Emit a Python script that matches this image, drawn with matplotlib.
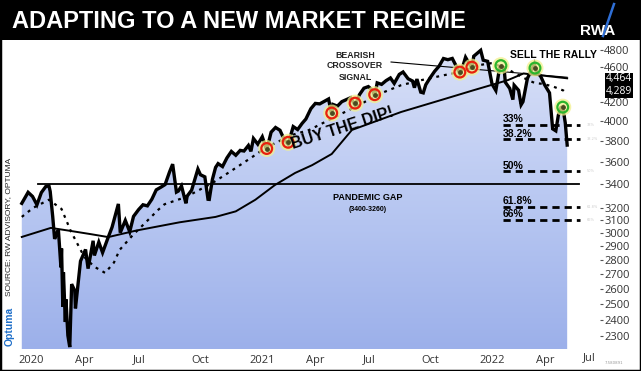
import numpy as np
import pandas as pd
import matplotlib
matplotlib.use("Agg")
import matplotlib.pyplot as plt
from matplotlib.colors import LinearSegmentedColormap
from matplotlib.ticker import FixedLocator, FixedFormatter, NullLocator
from matplotlib.lines import Line2D
from matplotlib.patches import Rectangle

W, H = 641, 371

# S&P 500
price_dates = [
    '2020-01-07', '2020-01-10', '2020-01-17', '2020-01-24', '2020-01-31', '2020-02-07', '2020-02-14',
    '2020-02-19', '2020-02-21', '2020-02-25', '2020-02-28', '2020-03-03', '2020-03-05', '2020-03-09',
    '2020-03-10', '2020-03-12', '2020-03-13', '2020-03-16', '2020-03-17', '2020-03-20', '2020-03-23',
    '2020-03-26', '2020-03-31', '2020-04-01', '2020-04-09', '2020-04-17', '2020-04-21', '2020-04-29',
    '2020-05-01', '2020-05-08', '2020-05-14', '2020-05-22', '2020-05-29', '2020-06-08', '2020-06-11',
    '2020-06-19', '2020-06-26', '2020-07-02', '2020-07-10', '2020-07-17', '2020-07-24', '2020-07-31',
    '2020-08-07', '2020-08-14', '2020-08-21', '2020-08-28', '2020-09-02', '2020-09-08', '2020-09-11',
    '2020-09-16', '2020-09-23', '2020-09-25', '2020-10-02', '2020-10-12', '2020-10-16', '2020-10-23',
    '2020-10-28', '2020-10-30', '2020-11-04', '2020-11-09', '2020-11-13', '2020-11-20', '2020-11-27',
    '2020-12-04', '2020-12-11', '2020-12-18', '2020-12-24', '2020-12-31',
    '2021-01-04', '2021-01-08', '2021-01-15', '2021-01-22', '2021-01-29', '2021-02-05', '2021-02-12',
    '2021-02-19', '2021-02-26', '2021-03-04', '2021-03-12', '2021-03-19', '2021-03-26', '2021-04-01',
    '2021-04-09', '2021-04-16', '2021-04-23', '2021-05-07', '2021-05-12', '2021-05-14', '2021-05-21',
    '2021-05-28', '2021-06-11', '2021-06-18', '2021-06-25', '2021-07-02', '2021-07-09', '2021-07-16',
    '2021-07-19', '2021-07-23', '2021-07-30', '2021-08-06', '2021-08-13', '2021-08-19', '2021-08-27',
    '2021-09-02', '2021-09-10', '2021-09-17', '2021-09-20', '2021-09-24', '2021-09-30', '2021-10-04',
    '2021-10-08', '2021-10-15', '2021-10-22', '2021-10-29', '2021-11-05', '2021-11-12', '2021-11-19',
    '2021-11-26', '2021-12-01', '2021-12-03', '2021-12-10', '2021-12-17', '2021-12-20', '2021-12-23',
    '2022-01-03', '2022-01-07', '2022-01-14', '2022-01-21', '2022-01-27', '2022-02-02', '2022-02-09',
    '2022-02-11', '2022-02-18', '2022-02-23', '2022-02-25', '2022-03-04', '2022-03-08', '2022-03-11',
    '2022-03-18', '2022-03-29', '2022-04-01', '2022-04-08', '2022-04-14', '2022-04-22', '2022-04-27',
    '2022-05-02', '2022-05-06', '2022-05-10', '2022-05-13', '2022-05-17', '2022-05-20']
price_vals = [
    3237, 3265, 3330, 3295, 3225, 3328, 3380,
    3386, 3338, 3128, 2954, 3003, 3023, 2746,
    2882, 2481, 2711, 2386, 2529, 2305, 2237,
    2630, 2585, 2471, 2790, 2875, 2737, 2940,
    2831, 2930, 2852, 2955, 3044, 3232, 3002,
    3098, 3009, 3130, 3185, 3225, 3216, 3271,
    3351, 3373, 3397, 3508, 3580, 3332, 3341,
    3385, 3237, 3298, 3348, 3535, 3484, 3465,
    3271, 3270, 3443, 3550, 3585, 3558, 3638,
    3699, 3663, 3709, 3703, 3756,
    3700, 3824, 3768, 3841, 3714, 3887, 3934,
    3906, 3811, 3768, 3943, 3913, 3975, 4020,
    4129, 4185, 4180, 4233, 4063, 4174, 4156,
    4204, 4247, 4166, 4281, 4352, 4370, 4327,
    4258, 4412, 4395, 4437, 4468, 4406, 4509,
    4537, 4459, 4433, 4358, 4455, 4308, 4300,
    4391, 4471, 4545, 4605, 4697, 4683, 4698,
    4595, 4513, 4538, 4712, 4620, 4568, 4725,
    4797, 4677, 4663, 4398, 4326, 4589, 4587,
    4419, 4349, 4226, 4385, 4329, 4170, 4204,
    4463, 4631, 4546, 4488, 4393, 4300, 3920,
    3900, 4060, 4140, 4150, 3980, 3760]

# 50-day average (dotted)
ma50_dates = ['2020-01-07', '2020-01-25', '2020-02-19', '2020-03-10', '2020-03-25', '2020-04-01',
              '2020-04-15', '2020-05-01', '2020-05-18', '2020-06-01', '2020-06-10', '2020-07-01',
              '2020-07-22', '2020-08-10', '2020-08-20', '2020-09-23', '2020-11-04', '2020-12-01',
              '2021-01-06', '2021-01-27', '2021-03-10', '2021-04-06', '2021-05-17', '2021-06-24',
              '2021-07-30', '2021-08-30', '2021-10-01', '2021-11-06', '2021-12-03', '2021-12-29',
              '2022-01-19', '2022-02-08', '2022-02-27', '2022-03-20', '2022-03-30', '2022-04-12',
              '2022-04-28', '2022-05-14', '2022-05-20']
ma50_vals = [3126, 3200, 3267, 3190, 3010, 2946,
             2820, 2750, 2707, 2780, 2872, 2984,
             3086, 3183, 3229, 3290, 3411, 3508,
             3646, 3733, 3859, 3908, 4041, 4168,
             4298, 4386, 4443, 4500, 4540, 4615,
             4640, 4596, 4520, 4440, 4410, 4400,
             4370, 4326, 4289]

# 200-day average (solid)
ma200_dates = ['2020-01-07', '2020-02-22', '2020-03-21', '2020-04-26', '2020-05-23', '2020-07-06',
               '2020-09-13', '2020-11-09', '2020-12-11', '2021-01-11', '2021-02-11', '2021-03-15',
               '2021-04-11', '2021-05-12', '2021-06-13', '2021-08-30', '2021-11-01', '2021-12-23',
               '2022-02-15', '2022-03-12', '2022-05-20']
ma200_vals = [2969, 3039, 3018, 2990, 2968, 3018,
              3083, 3126, 3171, 3267, 3393, 3500,
              3571, 3675, 3909, 4094, 4221, 4330,
              4443, 4520, 4464]

buy_dates = ['2021-01-29', '2021-03-04', '2021-05-12', '2021-06-18', '2021-07-19', '2021-12-01', '2021-12-20']
buy_vals = [3727, 3787, 4083, 4188, 4280, 4536, 4594]
sell_dates = ['2022-02-04', '2022-03-30', '2022-05-13']
sell_vals = [4612, 4583, 4145]

fib_labels = ['33%', '38.2%', '50%', '61.8%', '66%']
fib_vals = [3957, 3815, 3515, 3210, 3105]
gap_val = 3400

# 4400 sits under the last-value boxes in the original, so it is left out
y_ticks = [2300, 2400, 2500, 2600, 2700, 2800, 2900, 3000, 3100, 3200,
           3400, 3600, 3800, 4000, 4200, 4600, 4800]
x_tick_dates = ['2020-01-01', '2020-04-01', '2020-07-01', '2020-10-01', '2021-01-01', '2021-04-01',
                '2021-07-01', '2021-10-01', '2022-01-01', '2022-04-01']
x_tick_labels = ['2020', 'Apr', 'Jul', 'Oct', '2021', 'Apr', 'Jul', 'Oct', '2022', 'Apr']

px = pd.to_datetime(price_dates)
m50 = pd.to_datetime(ma50_dates)
m200 = pd.to_datetime(ma200_dates)


def fpos(x, y):
    # pixel position -> figure fraction
    return x / W, 1 - y / H


fig = plt.figure(figsize=(W / 100, H / 100), dpi=100)
fig.patch.set_facecolor('white')
ax = fig.add_axes([18 / W, (H - 349) / H, 582 / W, 309 / H])
ax.set_facecolor('white')

# gradient fill under the price line
cmap = LinearSegmentedColormap.from_list('bg', ['#9cb0ea', '#bac9f2', '#dae1f7'])
grad = np.linspace(0, 1, 256).reshape(-1, 1)
img = ax.imshow(grad, cmap=cmap, origin='lower', extent=[0, 1, 0, 1],
                transform=ax.transAxes, aspect='auto', zorder=1)

ax.set_yscale('log')
ylo, yhi = 2226, 4926
ax.set_xlim(pd.Timestamp('2020-01-07'), pd.Timestamp('2022-07-11'))
ax.set_ylim(ylo, yhi)

poly = ax.fill_between(px, price_vals, ylo, facecolor='none', edgecolor='none')
img.set_clip_path(poly.get_paths()[0], transform=ax.transData)

# pandemic gap + fib levels
ax.plot([pd.Timestamp('2020-02-02'), pd.Timestamp('2022-06-08')], [gap_val, gap_val],
        color='black', lw=1.3, zorder=3)
fib_start = pd.Timestamp('2022-02-07')
fib_end = pd.Timestamp('2022-06-09')
for lab, v in zip(fib_labels, fib_vals):
    ax.plot([fib_start, fib_end], [v, v], color='black', lw=2.0,
            linestyle=(0, (2.6, 1.8)), zorder=3)
    ax.text(fib_start, v * 1.002, lab, fontsize=7.5, fontweight='bold',
            family='Liberation Sans', ha='left', va='bottom', zorder=6)

# moving averages and price
ax.plot(m200, ma200_vals, color='black', lw=1.4, zorder=4)
ax.plot(m50, ma50_vals, color='black', lw=1.6, linestyle=(0, (1.3, 2.2)), zorder=4)
ax.plot(px, price_vals, color='black', lw=2.4, zorder=5, solid_joinstyle='miter')

# circled points
bx = pd.to_datetime(buy_dates)
sx = pd.to_datetime(sell_dates)
for xs, ys, ec in [(bx, buy_vals, '#e8200c'), (sx, sell_vals, '#2bb52b')]:
    ax.scatter(xs, ys, s=150, color='#f2f08c', alpha=0.75, edgecolors='none', zorder=6)
    ax.scatter(xs, ys, s=60, facecolors='none', edgecolors=ec, linewidths=1.6, zorder=7)
    ax.scatter(xs, ys, s=6, color='#4a4a20', zorder=8)

# annotation line for the crossover
ax.plot([pd.Timestamp('2021-08-14'), pd.Timestamp('2022-05-20')], [4655, 4476],
        color='black', lw=0.8, zorder=4)

# axes styling
for s in ax.spines.values():
    s.set_visible(False)
ax.yaxis.tick_right()
ax.yaxis.set_major_locator(FixedLocator(y_ticks))
ax.yaxis.set_major_formatter(FixedFormatter([str(t) for t in y_ticks]))
ax.yaxis.set_minor_locator(NullLocator())
ax.tick_params(axis='y', length=2.5, width=0.8, color='#555555', pad=0.5,
               labelsize=8, labelcolor='#333333')
ax.set_xticks(pd.to_datetime(x_tick_dates))
ax.set_xticklabels(x_tick_labels)
ax.tick_params(axis='x', length=0, pad=4, labelsize=8, labelcolor='#333333')
for t in ax.get_yticklabels() + ax.get_xticklabels():
    t.set_family('Open Sans')
for t in ax.get_xticklabels():
    t.set_ha('left')
fig.text(*fpos(583, 358), 'Jul', fontsize=8, color='#333333', family='Open Sans',
         ha='left', va='center')

# text annotations
ax_txt = dict(family='Liberation Sans', fontweight='bold', ha='center', va='center')
for yy, s in [(55, 'BEARISH'), (66, 'CROSSOVER'), (77, 'SIGNAL')]:
    fig.text(*fpos(355, yy), s, fontsize=6.3, color='#222222', **ax_txt)
fig.text(*fpos(553, 55), 'SELL THE RALLY', fontsize=7.5, color='black', **ax_txt)
fig.text(*fpos(342, 128), 'BUY THE DIP!', fontsize=11.5, color='black', rotation=18,
         rotation_mode='anchor', **ax_txt)
fig.text(*fpos(368, 197), 'PANDEMIC GAP', fontsize=6.5, color='black', **ax_txt)
fig.text(*fpos(368, 209), '(3400-3260)', fontsize=5, color='black', **ax_txt)

# last value boxes
for yy, s in [(79, '4,464'), (91.5, '4,289')]:
    fig.text(*fpos(619, yy), s, fontsize=7.5, color='white', family='Open Sans',
             ha='center', va='center',
             bbox=dict(boxstyle='square,pad=0.05', facecolor='black', edgecolor='none'))

# faint fib labels next to the price scale
for lab, v in zip(fib_labels, fib_vals):
    yy = 121 - 896 * np.log10(v / 4000)
    fig.text(*fpos(587, yy), lab, fontsize=2.5, color='#cccccc', ha='left', va='center')
fig.text(*fpos(605, 363), '7.580891', fontsize=2.8, color='#999999', ha='left', va='center')

# header band
fig.patches.append(Rectangle((0, 1 - 40 / H), 1, 40 / H, transform=fig.transFigure,
                             facecolor='black', edgecolor='none', zorder=0))
fig.text(*fpos(12, 21), 'ADAPTING TO A NEW MARKET REGIME', fontsize=17, color='white',
         family='Liberation Sans', fontweight='bold', ha='left', va='center')
fig.text(*fpos(598, 31), 'RWA', fontsize=11, color='white', family='Liberation Sans',
         fontweight='bold', ha='center', va='center')
fig.lines.append(Line2D([603 / W, 614 / W], [1 - 36 / H, 1 - 4 / H], transform=fig.transFigure,
                        color='#2f6fd6', lw=1.8))

# source and logo on the left
fig.text(*fpos(9, 227), 'SOURCE: RW ADVISORY, OPTUMA', fontsize=6, color='#222222',
         family='Liberation Sans', rotation=90, ha='center', va='center')
fig.text(*fpos(10, 326), 'Optuma', fontsize=7.5, color='#1f6fc9', family='Liberation Sans',
         fontweight='bold', rotation=90, ha='center', va='center')

# outer frame
fig.patches.append(Rectangle((0, 0), 1, 1, transform=fig.transFigure, fill=False,
                             edgecolor='black', lw=2.5, zorder=10))

fig.savefig('out.png', dpi=100)
